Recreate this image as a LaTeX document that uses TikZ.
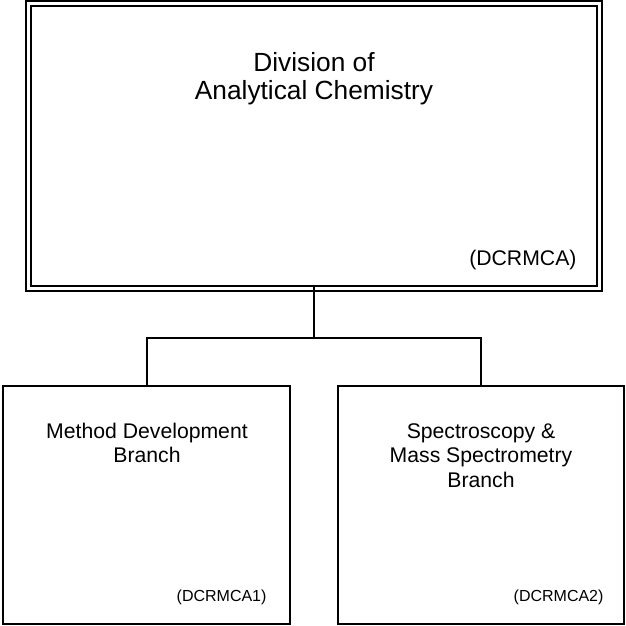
\documentclass[tikz,border=0pt]{standalone}
\usepackage{fontspec}
\setmainfont{Liberation Sans}
\begin{document}
\begin{tikzpicture}[x=1pt,y=-1pt,
  box/.style={draw,line width=2pt,inner sep=0pt},
  dbox/.style={draw,line width=2pt,double,double distance=3pt,inner sep=0pt},
  conn/.style={line width=2pt},
  big/.style={font=\fontsize{26.3}{28}\selectfont,align=center},
  mid/.style={font=\fontsize{21.2}{24.5}\selectfont,align=center},
  code/.style={font=\fontsize{21.2}{24}\selectfont},
  small/.style={font=\fontsize{16}{19}\selectfont}]
\useasboundingbox (0,0) rectangle (625,626);
\node[dbox,minimum width=571pt,minimum height=284pt] (div) at (314,146) {};
\node[box,minimum width=287pt,minimum height=238pt] (mdb) at (146.5,505) {};
\node[box,minimum width=286pt,minimum height=238pt] (smb) at (481,505) {};
\node[big] (divt) at (314,79) {Division of\\Analytical Chemistry};
\node[code,anchor=east] (divc) at (580,260) {(DCRMCA)};
\node[mid] (mdbt) at (147,443) {Method Development\\Branch};
\node[mid] (smbt) at (481,455.5) {Spectroscopy \&\\Mass Spectrometry\\Branch};
\node[small,anchor=east] (mdbc) at (270,597.5) {(DCRMCA1)};
\node[small,anchor=east] (smbc) at (607,597.5) {(DCRMCA2)};
\coordinate (bus) at (314,338);
\draw[conn] ([yshift=3.5pt]div.south) -- (bus);
\draw[conn] (bus) -| (mdb.north);
\draw[conn] (bus) -| (smb.north);
\end{tikzpicture}
\end{document}
